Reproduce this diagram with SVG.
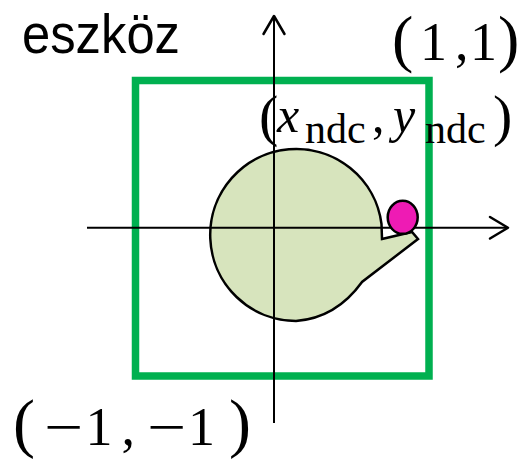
<svg xmlns="http://www.w3.org/2000/svg" width="531" height="464" viewBox="0 0 531 464">
<defs>
<style>
.axis{stroke:#000;stroke-width:2;fill:none}
.head{stroke:#000;stroke-width:2.5;fill:none;stroke-linecap:round;stroke-linejoin:round}
.serif{font-family:"Liberation Serif","DejaVu Serif",serif;fill:#000}
.sans{font-family:"Liberation Sans","DejaVu Sans",sans-serif;fill:#000}
</style>
</defs>
<rect width="531" height="464" fill="#fff"/>
<g id="device-box">
<rect x="135.5" y="80.5" width="293.5" height="295.5" fill="none" stroke="#00B050" stroke-width="7.5"/>
</g>
<g id="shape">
<path d="M 382,239 L 412,232 L 418,239 L 362,282 Q 336,318 296,321 A 86 86 0 1 1 381.5,224 Z" fill="#D7E4BD" stroke="#000" stroke-width="2.5" stroke-linejoin="miter"/>
</g>
<g id="connectors">
<line class="axis" x1="87" y1="227.7" x2="507" y2="227.7"/>
<polyline class="head" points="490,217 508,227.7 490,238.5"/>
<line class="axis" x1="274" y1="423" x2="274" y2="17"/>
<polyline class="head" points="263.5,34 274,16 284.5,34"/>
</g>
<g id="point">
<ellipse cx="402.7" cy="217.3" rx="15" ry="16.5" fill="#EE1BB4" stroke="#000" stroke-width="2.5"/>
</g>
<g id="labels">
<text class="sans" x="22" y="53" font-size="56" textLength="158" lengthAdjust="spacingAndGlyphs">eszköz</text>
<text class="serif" y="60" font-size="54"><tspan x="392" font-size="64">(</tspan><tspan x="420">1</tspan><tspan x="455">,</tspan><tspan x="470">1</tspan><tspan x="498" font-size="64">)</tspan></text>
<text class="serif" y="445" font-size="54"><tspan x="13" font-size="66">(</tspan><tspan x="85.5">1</tspan><tspan x="121.5">,</tspan><tspan x="188">1</tspan><tspan x="229" font-size="66">)</tspan></text>
<text class="serif" y="445" font-size="54" x="44" textLength="39" lengthAdjust="spacingAndGlyphs">−</text>
<text class="serif" y="445" font-size="54" x="147" textLength="39" lengthAdjust="spacingAndGlyphs">−</text>
<text class="serif" font-size="50"><tspan x="259" y="135" font-size="58">(</tspan><tspan x="277" y="132" font-style="italic">x</tspan><tspan x="305" y="143" font-size="42">ndc</tspan><tspan x="372" y="132">,</tspan><tspan x="393" y="132" font-style="italic">y</tspan><tspan x="425" y="143" font-size="42">ndc</tspan><tspan x="493" y="135" font-size="58">)</tspan></text>
</g>
</svg>
